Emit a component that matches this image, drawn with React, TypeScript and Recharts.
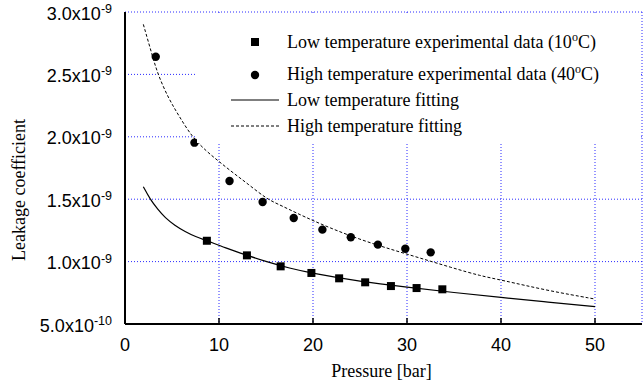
import React from 'react';
import {
  ComposedChart,
  Line,
  Scatter,
  XAxis,
  YAxis,
  CartesianGrid,
  Legend,
} from 'recharts';

// ---- data (pressure in bar, leakage coefficient) ----
const lowExpX = [8.71, 12.97, 16.56, 19.83, 22.78, 25.55, 28.29, 31.02, 33.76];
const lowExpY = [1.167e-9, 1.05e-9, 0.962e-9, 0.909e-9, 0.866e-9, 0.834e-9, 0.804e-9, 0.788e-9, 0.778e-9];

const highExpX = [3.27, 7.39, 11.12, 14.64, 17.95, 21.0, 24.02, 26.9, 29.82, 32.52];
const highExpY = [2.642e-9, 1.953e-9, 1.646e-9, 1.478e-9, 1.349e-9, 1.256e-9, 1.195e-9, 1.136e-9, 1.103e-9, 1.074e-9];

const lowFitX = [1.95, 2.67, 3.5, 4.26, 5.3, 6.4, 7.5, 8.7, 10.66, 13, 15, 17.5, 20, 25, 30, 35, 40, 45, 50];
const lowFitY = [1.6e-9, 1.5e-9, 1.418e-9, 1.352e-9, 1.29e-9, 1.24e-9, 1.2e-9, 1.168e-9, 1.11e-9, 1.05e-9, 1.0e-9, 0.947e-9, 0.905e-9, 0.84e-9, 0.795e-9, 0.752e-9, 0.712e-9, 0.676e-9, 0.64e-9];

const highFitX = [1.95, 2.85, 3.49, 4.62, 5.68, 7.11, 8.71, 9.95, 11.55, 13, 15.1, 16.5, 19.9, 25, 30, 35, 37.85, 40, 45, 50];
const highFitY = [2.901e-9, 2.665e-9, 2.5e-9, 2.309e-9, 2.175e-9, 2.0e-9, 1.881e-9, 1.805e-9, 1.708e-9, 1.627e-9, 1.5e-9, 1.454e-9, 1.328e-9, 1.173e-9, 1.06e-9, 0.946e-9, 0.885e-9, 0.853e-9, 0.767e-9, 0.7e-9];

const xMajorTicks = [0, 10, 20, 30, 40, 50];
const xMinorTicks = [5, 15, 25, 35, 45];
const xTopTicks = [5, 10, 15, 20, 25, 30, 35, 40, 45, 50];
const yMajorTicks = [5e-10, 1e-9, 1.5e-9, 2e-9, 2.5e-9, 3e-9];
const yMinorTicks = [7.5e-10, 1.25e-9, 1.75e-9, 2.25e-9, 2.75e-9];

const legendLabels = [
  'Low temperature experimental data (10',
  'High temperature experimental data (40',
  'Low temperature fitting',
  'High temperature fitting',
];

const xTitle = 'Pressure [bar]';
const yTitle = 'Leakage coefficient';

const zip = (xs: number[], ys: number[]) => xs.map((x, i) => ({ x, y: ys[i] }));
const lowExp = zip(lowExpX, lowExpY);
const highExp = zip(highExpX, highExpY);
const lowFit = zip(lowFitX, lowFitY);
const highFit = zip(highFitX, highFitY);

const SANS = '"Liberation Sans", Arial, sans-serif';
const SERIF = '"Liberation Serif", "Times New Roman", serif';

const YTick = (props: any) => {
  const { x, y, payload } = props;
  const v = payload.value as number;
  const exp = Math.floor(Math.log10(v) + 1e-9);
  const mant = (v / Math.pow(10, exp)).toFixed(1);
  return (
    <text x={x} y={y + 7.5} textAnchor="end" fontFamily={SANS} fontSize={18} fill="#000">
      <tspan>{mant}x10</tspan>
      <tspan dy={-6.5} fontSize={12.5}>{String(exp)}</tspan>
    </text>
  );
};

const YLabel = (props: any) => {
  const vb = props.viewBox || { x: 0, y: 12, width: 125, height: 312 };
  const cx = vb.x + 25;
  const cy = vb.y + vb.height / 2 + 22;
  return (
    <text
      x={cx}
      y={cy}
      transform={`rotate(-90 ${cx} ${cy})`}
      textAnchor="middle"
      fontFamily={SERIF}
      fontSize={18}
      fill="#000"
    >
      {yTitle}
    </text>
  );
};

const XLabel = (props: any) => {
  const vb = props.viewBox || { x: 125, y: 324, width: 517, height: 63 };
  return (
    <text
      x={vb.x + vb.width / 2 - 2}
      y={vb.y + 53}
      textAnchor="middle"
      fontFamily={SERIF}
      fontSize={18}
      fill="#000"
    >
      {xTitle}
    </text>
  );
};

const LegendContent = () => (
  <svg width={443} height={129} style={{ display: 'block' }}>
    <rect x={0} y={0} width={443} height={129} fill="#fff" />
    <rect x={54} y={24} width={8} height={8} fill="#000" />
    <text x={90} y={34} fontFamily={SERIF} fontSize={18} fill="#000">
      {legendLabels[0]}
      <tspan dy={-7} fontSize={12}>o</tspan>
      <tspan dy={7}>C)</tspan>
    </text>
    <circle cx={58} cy={61} r={4.2} fill="#000" />
    <text x={90} y={66} fontFamily={SERIF} fontSize={18} fill="#000">
      {legendLabels[1]}
      <tspan dy={-7} fontSize={12}>o</tspan>
      <tspan dy={7}>C)</tspan>
    </text>
    <line x1={34} y1={86} x2={82} y2={86} stroke="#000" strokeWidth={1.2} />
    <text x={90} y={92} fontFamily={SERIF} fontSize={18} fill="#000">
      {legendLabels[2]}
    </text>
    <line x1={34} y1={112} x2={82} y2={112} stroke="#000" strokeWidth={1} strokeDasharray="3 2" />
    <text x={90} y={118} fontFamily={SERIF} fontSize={18} fill="#000">
      {legendLabels[3]}
    </text>
  </svg>
);

const squareShape = (p: any) => (
  <rect x={p.cx - 4} y={p.cy - 4} width={8} height={8} fill="#000" />
);
const circleShape = (p: any) => <circle cx={p.cx} cy={p.cy} r={4.2} fill="#000" />;

export default function App() {
  return (
    <div style={{ position: 'absolute', left: 0, top: 0, width: 644, height: 387, background: '#fff' }}>
      <ComposedChart width={644} height={387} margin={{ top: 12, right: 2, bottom: 0, left: 0 }}>
        <CartesianGrid
          xAxisId="x"
          yAxisId="y"
          stroke="#2a2aff"
          strokeDasharray="1 2"
          strokeWidth={1}
        />
        <Legend
          content={<LegendContent />}
          verticalAlign="middle"
          align="center"
          layout="horizontal"
          wrapperStyle={{ left: 197, top: 14, width: 443, height: 129, right: 'auto', bottom: 'auto', margin: 0 }}
        />
        <Line
          data={lowFit}
          dataKey="y"
          xAxisId="x"
          yAxisId="y"
          type="basis"
          stroke="#000"
          strokeWidth={1.2}
          dot={false}
          isAnimationActive={false}
          legendType="none"
        />
        <Line
          data={highFit}
          dataKey="y"
          xAxisId="x"
          yAxisId="y"
          type="basis"
          stroke="#000"
          strokeWidth={1}
          strokeDasharray="3 2"
          dot={false}
          isAnimationActive={false}
          legendType="none"
        />
        <Scatter
          data={lowExp}
          dataKey="y"
          xAxisId="x"
          yAxisId="y"
          shape={squareShape}
          isAnimationActive={false}
        />
        <Scatter
          data={highExp}
          dataKey="y"
          xAxisId="x"
          yAxisId="y"
          shape={circleShape}
          isAnimationActive={false}
        />
        <XAxis
          xAxisId="x"
          dataKey="x"
          type="number"
          domain={[0, 55]}
          allowDataOverflow
          ticks={xMajorTicks}
          interval={0}
          height={63}
          tickSize={-6}
          tickMargin={20}
          axisLine={{ stroke: '#000', strokeWidth: 2 }}
          tickLine={{ stroke: '#000', strokeWidth: 1.5 }}
          tick={{ fontSize: 18, fontFamily: SANS, fill: '#000' }}
          label={XLabel}
        />
        <XAxis
          xAxisId="xMinor"
          dataKey="x"
          type="number"
          domain={[0, 55]}
          allowDataOverflow
          ticks={xMinorTicks}
          interval={0}
          mirror
          height={0}
          tickSize={3}
          tick={false}
          axisLine={false}
          tickLine={{ stroke: '#000', strokeWidth: 1.2 }}
        />
        <XAxis
          xAxisId="xTop"
          dataKey="x"
          orientation="top"
          type="number"
          domain={[0, 55]}
          allowDataOverflow
          ticks={xTopTicks}
          interval={0}
          mirror
          height={0}
          tickSize={2}
          tick={false}
          axisLine={{ stroke: '#000', strokeWidth: 1.5 }}
          tickLine={{ stroke: '#000', strokeWidth: 1 }}
        />
        <YAxis
          yAxisId="y"
          type="number"
          domain={[5e-10, 3e-9]}
          allowDataOverflow
          ticks={yMajorTicks}
          interval={0}
          width={125}
          tickSize={0}
          tickMargin={13}
          tickLine={false}
          axisLine={{ stroke: '#000', strokeWidth: 2 }}
          tick={<YTick />}
          label={YLabel}
        />
        <YAxis
          yAxisId="yMinor"
          type="number"
          domain={[5e-10, 3e-9]}
          allowDataOverflow
          ticks={yMinorTicks}
          interval={0}
          mirror
          width={0}
          tickSize={5}
          tick={false}
          axisLine={false}
          tickLine={{ stroke: '#000', strokeWidth: 1.2 }}
        />
        <YAxis
          yAxisId="yRight"
          orientation="right"
          type="number"
          domain={[5e-10, 3e-9]}
          allowDataOverflow
          ticks={yMinorTicks}
          interval={0}
          mirror
          width={0}
          tickSize={5}
          tick={false}
          axisLine={{ stroke: '#000', strokeWidth: 1.5 }}
          tickLine={{ stroke: '#000', strokeWidth: 1.2 }}
        />
      </ComposedChart>
    </div>
  );
}
